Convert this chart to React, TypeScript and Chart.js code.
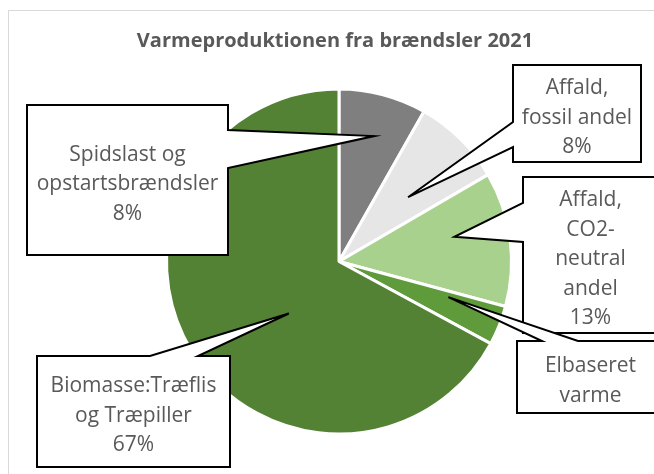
import React, { useEffect, useRef } from "react";
import { Chart, registerables } from "chart.js";

Chart.register(...registerables);

// ---- data ----
const title = "Varmeproduktionen fra brændsler 2021";
const categories = [
  "Spidslast og opstartsbrændsler",
  "Affald, fossil andel",
  "Affald, CO2-neutral andel",
  "Elbaseret varme",
  "Biomasse:Træflis og Træpiller",
];
const values = [8.2, 8.4, 12.6, 3.7, 67.1];
const labelLines = [
  ["Spidslast og", "opstartsbrændsler"],
  ["Affald,", "fossil andel"],
  ["Affald,", "CO2-", "neutral", "andel"],
  ["Elbaseret", "varme"],
  ["Biomasse:Træflis", "og Træpiller"],
];
const showPercent = [true, true, true, false, true];
const colors = ["#7f7f7f", "#e7e6e6", "#a9d18e", "#5f9a3b", "#548235"];

// ---- callout layout (box rect, tail side/base, tip position inside slice) ----
const calloutLayout = [
  { box: [27, 105, 228, 255], side: "right", base: [130, 168], t: 0.53, f: 0.755 },
  { box: [513, 65, 641, 162], side: "left", base: [122, 147], t: 0.58, f: 0.547 },
  { box: [523, 177, 658, 333], side: "left", base: [203, 242], t: 0.4, f: 0.684 },
  { box: [517, 341, 664, 413], side: "top", base: [542, 578], t: 0.22, f: 0.667 },
  { box: [37, 356, 230, 467], side: "top", base: [150, 198], t: 0.437, f: 0.419 },
];

const FONT = "'Open Sans', 'Noto Sans', sans-serif";
const TEXT_COLOR = "#595959";

const calloutPlugin = {
  id: "callouts",
  beforeDraw(chart: any) {
    const ctx = chart.ctx;
    ctx.save();
    ctx.fillStyle = "#ffffff";
    ctx.fillRect(0, 0, chart.width, chart.height);
    ctx.strokeStyle = "#d9d9d9";
    ctx.lineWidth = 1;
    ctx.strokeRect(8.5, 10.5, 800, 800);
    ctx.fillStyle = TEXT_COLOR;
    ctx.font = `bold 20px ${FONT}`;
    ctx.textAlign = "center";
    ctx.textBaseline = "alphabetic";
    ctx.fillText(title, 335, 47);
    ctx.restore();
  },
  afterDatasetsDraw(chart: any) {
    const ctx = chart.ctx;
    const meta = chart.getDatasetMeta(0);
    const total = values.reduce((a, b) => a + b, 0);
    ctx.save();
    meta.data.forEach((arc: any, i: number) => {
      const L = calloutLayout[i];
      const p = arc.getProps(["x", "y", "startAngle", "endAngle", "outerRadius"], true);
      const a = p.startAngle + L.t * (p.endAngle - p.startAngle);
      const tx = p.x + Math.cos(a) * p.outerRadius * L.f;
      const ty = p.y + Math.sin(a) * p.outerRadius * L.f;
      const [x0, y0, x1, y1] = L.box;
      const pts: number[][] = [];
      if (L.side === "right") {
        pts.push([x0, y0], [x1, y0], [x1, L.base[0]], [tx, ty], [x1, L.base[1]], [x1, y1], [x0, y1]);
      } else if (L.side === "left") {
        pts.push([x0, y0], [x1, y0], [x1, y1], [x0, y1], [x0, L.base[1]], [tx, ty], [x0, L.base[0]]);
      } else {
        pts.push([x0, y0], [L.base[0], y0], [tx, ty], [L.base[1], y0], [x1, y0], [x1, y1], [x0, y1]);
      }
      ctx.beginPath();
      pts.forEach(([px, py], k) => (k === 0 ? ctx.moveTo(px, py) : ctx.lineTo(px, py)));
      ctx.closePath();
      ctx.fillStyle = "#ffffff";
      ctx.fill();
      ctx.strokeStyle = "#000000";
      ctx.lineWidth = 2;
      ctx.lineJoin = "miter";
      ctx.stroke();

      const lines = labelLines[i].slice();
      if (showPercent[i]) lines.push(Math.round((values[i] / total) * 100) + "%");
      const cx = (x0 + x1) / 2;
      const cy = (y0 + y1) / 2 + 2.5;
      const lh = 29.5;
      ctx.fillStyle = TEXT_COLOR;
      ctx.font = `21px ${FONT}`;
      ctx.textAlign = "center";
      ctx.textBaseline = "alphabetic";
      lines.forEach((s, k) => {
        const by = cy + (k - (lines.length - 1) / 2) * lh + 7.5;
        ctx.fillText(s, cx, by);
      });
    });
    ctx.restore();
  },
};

export default function App() {
  const ref = useRef<HTMLCanvasElement>(null);
  useEffect(() => {
    if (!ref.current) return;
    const chart = new Chart(ref.current, {
      type: "pie",
      data: {
        labels: categories,
        datasets: [
          {
            data: values,
            backgroundColor: colors,
            borderColor: "#ffffff",
            borderWidth: 3,
          },
        ],
      },
      options: {
        responsive: false,
        animation: false,
        devicePixelRatio: 1,
        layout: { padding: { left: 165, right: 141, top: 87.5, bottom: 38.5 } },
        plugins: {
          legend: { display: false },
          tooltip: { enabled: false },
          title: { display: false },
        },
      },
      plugins: [calloutPlugin],
    });
    return () => chart.destroy();
  }, []);
  return (
    <div style={{ position: "fixed", left: 0, top: 0, width: 654, height: 474, background: "#fff" }}>
      <canvas ref={ref} width={654} height={474} style={{ display: "block" }} />
    </div>
  );
}
